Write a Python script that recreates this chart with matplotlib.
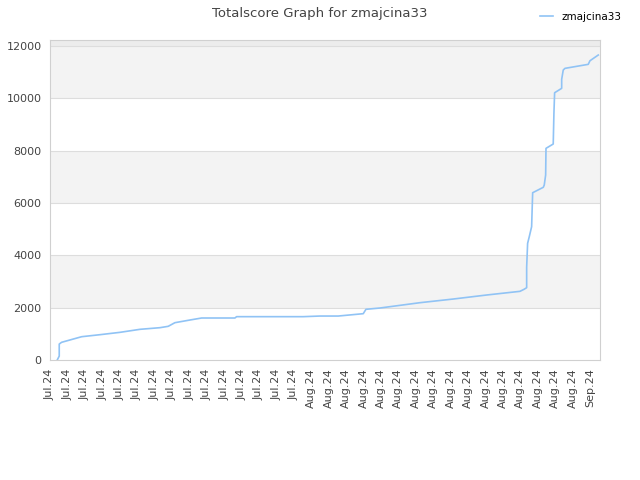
"""Totalscore graph for zmajcina33."""

import matplotlib
matplotlib.use("Agg")
import matplotlib.pyplot as plt
import matplotlib.dates as mdates
import pandas as pd

start_date = "2024-07-02"
# days since start_date, cumulative total score
day_offsets = [0.84, 1.07, 1.07, 1.34, 3.64, 5.74, 8.04, 10.33, 12.63, 13.58, 14.35,
               16.07, 17.42, 21.24, 21.43, 29.08, 31.0, 33.1, 35.97, 36.28, 37.89,
               42.48, 46.3, 50.14, 53.96, 54.42, 54.73, 54.73, 54.84, 55.03, 55.3,
               55.42, 56.64, 56.75, 56.91, 56.95, 57.78, 57.86, 57.94, 58.75, 58.75,
               58.93, 59.13, 61.8, 62.0, 62.95]
scores = [0, 150, 610, 676, 890, 967, 1057, 1172, 1235, 1287, 1426,
          1528, 1605, 1605, 1656, 1656, 1680, 1680, 1770, 1937, 1987,
          2190, 2330, 2484, 2624, 2700, 2763, 3542, 4458, 4712, 5094,
          6393, 6600, 6687, 7069, 8089, 8254, 9425, 10214, 10382, 10726,
          11081, 11146, 11299, 11437, 11655]
tick_dates = pd.date_range("2024-07-02", "2024-09-02", freq="2D")
tick_labels = [d.strftime("%b.%y") for d in tick_dates]

t0 = pd.Timestamp(start_date)
times = [t0 + pd.Timedelta(days=d) for d in day_offsets]

fig = plt.figure(figsize=(6.4, 4.8), dpi=100)
ax = fig.add_axes([0.078, 0.25, 0.8595, 0.6667])

ymax = 12230
for lo in range(2000, 14000, 4000):
    ax.axhspan(lo, lo + 2000, color="#F3F3F3", zorder=0, lw=0)
ax.axhspan(12000, ymax, color="#ECECEC", zorder=0, lw=0)
for y in range(2000, 14000, 2000):
    ax.axhline(y, color="#DDDDDD", lw=0.8, zorder=1)

ax.plot(times, scores, color="#90C3F5", lw=1.2, label="zmajcina33", zorder=2)

ax.set_ylim(0, ymax)
ax.set_xlim(t0, t0 + pd.Timedelta(days=63.15))
ax.set_yticks(range(0, 14000, 2000))
ax.set_xticks(tick_dates)
ax.set_xticklabels(tick_labels, rotation=90)
ax.tick_params(length=0, labelsize=8, colors="#444444", pad=6)
for s in ax.spines.values():
    s.set_color("#D0D0D0")

fig.suptitle("Totalscore Graph for zmajcina33", x=0.5, y=0.985, fontsize=9.5, color="#444444")
fig.legend(loc="upper right", bbox_to_anchor=(0.985, 0.995), frameon=False,
           fontsize=7.5, handlelength=1.2)

fig.savefig("out.png")
plt.close(fig)
